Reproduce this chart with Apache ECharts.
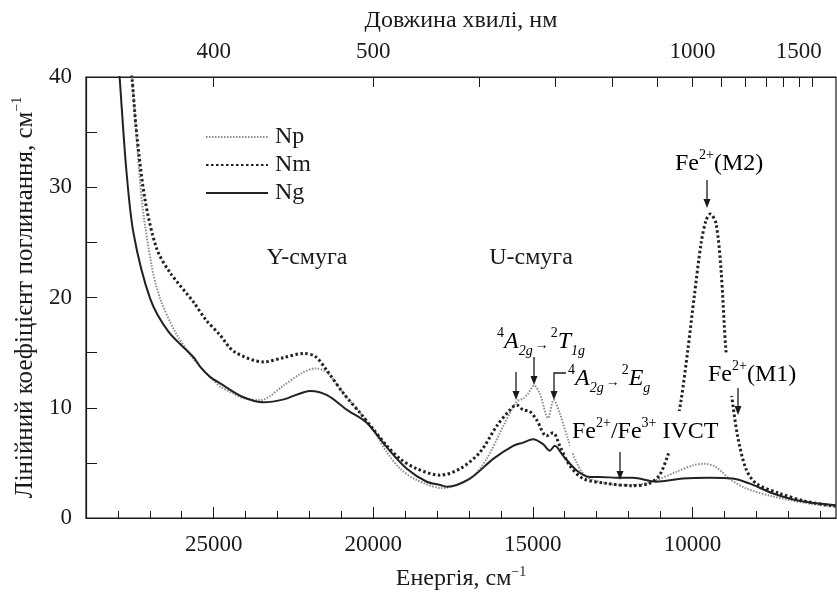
<!DOCTYPE html>
<html lang="uk">
<head>
	<meta charset="UTF-8">
	<title>Спектри поглинання</title>
	<script src="https://cdn.jsdelivr.net/npm/echarts@6/dist/echarts.min.js"></script>
	<style>
		html, body { margin: 0; padding: 0; background: #fff; }
		#chart { width: 837px; height: 596px; }
	</style>
</head>
<body>
	<div id="chart"></div>
	<script>
		// ---- дані (енергія, см-1 / коефіцієнт, см-1) ----
		var seriesNames = ['Np', 'Nm', 'Ng'];

		var npE = [27800, 27562, 27250, 26937, 26677, 26208, 25687, 25406, 25010, 24781, 24385, 24053, 23531, 22803, 22281, 21812, 21447, 20928, 20406, 19990, 19572, 19156, 18634, 17850, 16969, 16447, 15928, 15509, 15303, 15147, 14959, 14781, 14522, 14344, 14156, 13897, 13634, 13322, 12697, 12281, 11800, 11134, 10509, 9991, 9625, 9259, 8844, 8322, 7491, 6447, 5509];
		var npV = [47, 40, 28.8, 22.8, 19.9, 16.9, 14.6, 13.66, 12.5, 11.88, 11.3, 10.84, 10.7, 12.03, 13.07, 13.57, 13.21, 11.29, 9.51, 7.9, 5.96, 4.47, 3.44, 2.72, 3.58, 5.36, 8.33, 10.55, 10.84, 11.29, 12.03, 11.29, 9.07, 10.7, 9.51, 7.14, 5.07, 3.73, 3.14, 3.0, 3.0, 3.44, 4.18, 4.77, 4.92, 4.62, 3.58, 2.69, 1.96, 1.36, 1.0];

		var nmE = [27800, 27562, 27406, 27146, 26781, 26365, 25635, 25250, 24802, 24365, 23428, 22803, 22178, 21812, 21447, 20928, 20406, 19990, 19572, 19156, 18634, 17906, 17281, 16656, 16134, 15719, 15509, 15303, 15094, 14884, 14572, 14366, 14156, 13844, 13428, 12697, 11866, 11344, 11031, 10772, 10562, 10353, 10147, 9938, 9728, 9572, 9438, 9259, 9103, 8947, 8791, 8584, 8322, 8009, 7281, 6447, 5509];
		var nmV = [47, 40, 34.7, 28.8, 24.4, 22.25, 19.6, 18.0, 16.6, 15.1, 14.16, 14.55, 14.93, 14.64, 13.36, 11.29, 9.51, 8.03, 6.55, 5.36, 4.47, 3.88, 4.47, 5.96, 8.33, 9.8, 10.25, 9.8, 9.66, 8.92, 7.44, 7.73, 6.55, 4.77, 3.58, 3.14, 2.93, 3.14, 3.88, 5.66, 7.44, 10.7, 15.14, 20.18, 24.9, 27.0, 27.58, 26.7, 22.55, 15.14, 11.58, 7.44, 4.47, 3.14, 2.25, 1.51, 1.07];

		var ngE = [28100, 27947, 27740, 27510, 26990, 26416, 25635, 25406, 25115, 24781, 24100, 23428, 22803, 21969, 21447, 20822, 20197, 19572, 18947, 18322, 17906, 17697, 16969, 16241, 15616, 15303, 14991, 14678, 14469, 14313, 14053, 13634, 13219, 12906, 12281, 11866, 11134, 10303, 9469, 8740, 8219, 7491, 6656, 5509];
		var ngV = [46, 40, 31.7, 25.8, 19.9, 16.9, 14.6, 13.66, 12.8, 12.18, 11.0, 10.49, 10.76, 11.53, 11.14, 9.81, 8.62, 6.4, 4.47, 3.29, 3.0, 2.84, 3.58, 5.36, 6.55, 6.84, 7.14, 6.7, 6.1, 6.55, 5.66, 4.33, 3.73, 3.73, 3.64, 3.64, 3.29, 3.58, 3.64, 3.58, 3.14, 2.25, 1.57, 1.16];

		// ---- осі ----
		var energyMajor = [25000, 20000, 15000, 10000];
		var energyMinor = [28000, 27000, 26000, 24000, 23000, 22000, 21000, 19000, 18000, 17000, 16000, 14000, 13000, 12000, 11000, 9000, 8000, 7000, 6000];
		var nmTicks = [400, 500, 600, 700, 800, 900, 1000, 1100, 1200, 1300, 1400, 1500, 1600];
		var nmLabels = [400, 500, 1000, 1500];

		var FONT = "'Liberation Serif', 'Times New Roman', serif";
		var INK = '#1a1a1a';

		function zip(xs, ys) {
			return xs.map(function (x, i) { return [x, ys[i]]; });
		}
		function toEnergy(nm) { return 1e7 / nm; }

		var richBase = {
			n:   { fontFamily: FONT, fontSize: 24, color: INK, lineHeight: 32 },
			it:  { fontFamily: FONT, fontSize: 24, color: INK, fontStyle: 'italic', lineHeight: 32 },
			sup: { fontFamily: FONT, fontSize: 14, color: INK, verticalAlign: 'top' },
			sub: { fontFamily: FONT, fontSize: 14, color: INK, fontStyle: 'italic', verticalAlign: 'bottom' },
			ar:  { fontFamily: FONT, fontSize: 14, color: INK, padding: [6, 2, 0, 2] }
		};

		// ---- підписи і стрілки ----
		function label(x, y, text, bg) {
			return {
				type: 'text', z: 100, x: x, y: y,
				style: {
					text: text, rich: richBase, textAlign: 'left', textVerticalAlign: 'middle',
					backgroundColor: bg ? '#fff' : null, padding: bg ? [5, 2, 5, 2] : 0
				}
			};
		}
		function head(x, y) {
			return {
				type: 'polygon', z: 101,
				shape: { points: [[x - 3.5, y - 9], [x + 3.5, y - 9], [x, y]] },
				style: { fill: INK }
			};
		}
		function arrow(x, y1, y2) {
			return [{
				type: 'line', z: 101,
				shape: { x1: x, y1: y1, x2: x, y2: y2 - 6 },
				style: { stroke: INK, lineWidth: 1.3 }
			}, head(x, y2)];
		}

		var graphics = [
			{ type: 'text', z: 100, x: 307, y: 258, style: { text: 'Y-смуга', font: '24px ' + FONT, fill: INK, textAlign: 'center', textVerticalAlign: 'middle' } },
			{ type: 'text', z: 100, x: 531, y: 258, style: { text: 'U-смуга', font: '24px ' + FONT, fill: INK, textAlign: 'center', textVerticalAlign: 'middle' } },
			label(497, 342, '{sup|4}{it|A}{sub|2g}{ar|→}{sup|2}{it|T}{sub|1g}'),
			label(568, 379, '{sup|4}{it|A}{sub|2g}{ar|→}{sup|2}{it|E}{sub|g}'),
			label(570, 432, '{n|Fe}{sup|2+}{n|/Fe}{sup|3+}{n| IVCT}', true),
			label(675, 164, '{n|Fe}{sup|2+}{n|(M2)}'),
			label(706, 375, '{n|Fe}{sup|2+}{n|(M1)}', true),
			{
				type: 'polyline', z: 101,
				shape: { points: [[566, 373], [554, 373], [554, 394]] },
				style: { stroke: INK, lineWidth: 1.3, fill: null }
			},
			head(554, 400)
		].concat(arrow(516, 372, 400), arrow(534, 357, 385), arrow(620, 452, 480), arrow(707, 180, 208), arrow(738, 388, 415));

		var chart = echarts.init(document.getElementById('chart'));

		var axisLineStyle = { lineStyle: { color: INK, width: 1.2 } };

		var option = {
			animation: false,
			backgroundColor: '#fff',
			grid: { left: 86, right: 1, top: 77, bottom: 69, show: true, borderColor: INK, borderWidth: 1.2 },
			legend: {
				data: seriesNames,
				orient: 'vertical',
				left: 200, top: 120,
				itemWidth: 62, itemHeight: 12, itemGap: 4,
				itemStyle: { color: 'rgba(0,0,0,0)', borderWidth: 0, opacity: 0 },
				textStyle: { fontFamily: FONT, fontSize: 24, color: INK, padding: [0, 0, 0, 2] }
			},
			xAxis: [{
				type: 'value', min: 5500, max: 29000, inverse: true, position: 'bottom',
				axisLine: axisLineStyle,
				splitLine: { show: false },
				axisTick: { inside: true, length: 11, customValues: energyMajor, lineStyle: { color: INK } },
				axisLabel: {
					customValues: energyMajor, fontFamily: FONT, fontSize: 23, color: INK, margin: 15,
					formatter: function (v) { return String(v); }
				},
				name: '{a|Енергія, см}{s|−1}',
				nameLocation: 'middle', nameGap: 47,
				nameTextStyle: {
					rich: {
						a: { fontFamily: FONT, fontSize: 24, color: INK, lineHeight: 28 },
						s: { fontFamily: FONT, fontSize: 14, color: INK, verticalAlign: 'top' }
					}
				}
			}, {
				type: 'value', min: 5500, max: 29000, inverse: true, position: 'bottom',
				axisLine: { show: false },
				splitLine: { show: false },
				axisTick: { inside: true, length: 7, customValues: energyMinor, lineStyle: { color: INK } },
				axisLabel: { show: false }
			}, {
				type: 'value', min: 5500, max: 29000, inverse: true, position: 'top',
				axisLine: axisLineStyle,
				splitLine: { show: false },
				axisTick: { inside: true, length: 10, customValues: nmTicks.map(toEnergy), lineStyle: { color: INK } },
				axisLabel: {
					customValues: nmLabels.map(toEnergy), fontFamily: FONT, fontSize: 23, color: INK, margin: 14,
					formatter: function (v) { return String(Math.round(1e7 / v)); }
				},
				name: 'Довжина хвилі, нм',
				nameLocation: 'middle', nameGap: 44,
				nameTextStyle: { fontFamily: FONT, fontSize: 24, color: INK }
			}],
			yAxis: {
				type: 'value', min: 0, max: 40, interval: 5,
				axisLine: axisLineStyle,
				splitLine: { show: false },
				axisTick: { inside: true, length: 11, lineStyle: { color: INK } },
				axisLabel: {
					fontFamily: FONT, fontSize: 23, color: INK, margin: 14,
					formatter: function (v) { return v % 10 === 0 ? String(v) : ''; }
				},
				name: '{a|Лінійний коефіцієнт поглинання, см}{s|−1}',
				nameLocation: 'middle', nameGap: 38,
				nameTextStyle: {
					rich: {
						a: { fontFamily: FONT, fontSize: 25, color: INK, lineHeight: 30 },
						s: { fontFamily: FONT, fontSize: 14, color: INK, verticalAlign: 'top' }
					}
				}
			},
			series: [{
				name: 'Np', type: 'line', symbol: 'none', smooth: 0.3, clip: true,
				data: zip(npE, npV),
				lineStyle: { color: '#8c8c8c', width: 2, type: [1.5, 1.5] },
				itemStyle: { color: '#8c8c8c' }
			}, {
				name: 'Nm', type: 'line', symbol: 'none', smooth: 0.3, clip: true,
				data: zip(nmE, nmV),
				lineStyle: { color: '#222', width: 3, type: [2.5, 2.5] },
				itemStyle: { color: '#222' }
			}, {
				name: 'Ng', type: 'line', symbol: 'none', smooth: 0.3, clip: true,
				data: zip(ngE, ngV),
				lineStyle: { color: '#222', width: 2, type: 'solid' },
				itemStyle: { color: '#222' }
			}],
			graphic: graphics
		};

		chart.setOption(option);
	</script>
</body>
</html>
